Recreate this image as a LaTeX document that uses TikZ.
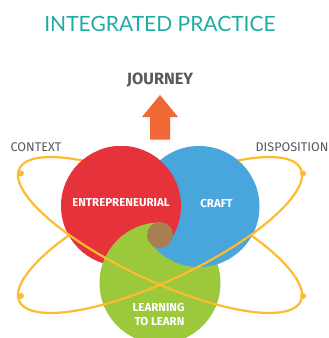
\documentclass[tikz,border=0pt]{standalone}
\usepackage{fontspec}
\setmainfont{Fira Sans}
\newfontfamily\titlefont{Lato}
\definecolor{teal1}{HTML}{1FADA3}
\definecolor{red1}{HTML}{E5323B}
\definecolor{blue1}{HTML}{48A6DC}
\definecolor{green1}{HTML}{9BC93B}
\definecolor{brown1}{HTML}{A87F52}
\definecolor{orange1}{HTML}{F26835}
\definecolor{yellow1}{HTML}{FDBB30}
\definecolor{gray1}{HTML}{58595B}
\tikzset{
  orbit/.style={draw=yellow1,line width=2.2pt},
  dotmark/.style={fill=yellow1,draw=none},
  side/.style={text=gray1,font=\fontsize{12.6}{15}\selectfont,inner sep=0pt},
  inner/.style={text=white,font=\fontsize{11.5}{14}\selectfont\bfseries,inner sep=0pt,align=center}
}
\newcommand{\orbitA}[2]{plot[smooth,samples=60,domain=#1:#2,variable=\t]
  ({160+155.5*cos(\t)*cos(25.2)-45.5*sin(\t)*sin(25.2)},{235+155.5*cos(\t)*sin(25.2)+45.5*sin(\t)*cos(25.2)})}
\newcommand{\orbitB}[2]{plot[smooth,samples=60,domain=#1:#2,variable=\t]
  ({160-155.5*cos(\t)*cos(25.2)+45.5*sin(\t)*sin(25.2)},{235+155.5*cos(\t)*sin(25.2)+45.5*sin(\t)*cos(25.2)})}
\begin{document}
\begin{tikzpicture}[x=1pt,y=-1pt]
\useasboundingbox (0,0) rectangle (329,338);
\fill[white] (0,0) rectangle (329,338);
% back half of orbits
\draw[orbit] \orbitA{180}{360};
\draw[orbit] \orbitB{180}{360};
% circles
\fill[red1] (121,206) circle (60);
\fill[green1] (160,283) circle (60.5);
\fill[blue1] (199,206.5) circle (60.5);
\begin{scope}
  \clip (121,206) circle (60);
  \fill[red1] (100,120) rectangle (200,236);
\end{scope}
\begin{scope}
  \clip (160,283) circle (60.5);
  \fill[green1] (90,215) rectangle (160,236.5);
\end{scope}
\fill[brown1] (160,235) circle (13);
% front half of orbits
\draw[orbit] \orbitA{0}{180};
\draw[orbit] \orbitB{0}{180};
\foreach \p in {(21,173.5),(303,173.5),(21,296),(303,296)} \fill[dotmark] \p circle (3);
% arrow
\fill[orange1] (160,95) -- (178,117) -- (170,117) -- (170,139.5) -- (150,139.5) -- (150,117) -- (142,117) -- cycle;
% text
\node[text=teal1,font=\titlefont\fontsize{21}{24}\selectfont,inner sep=0pt] (title) at (160,24) {INTEGRATED PRACTICE};
\node[text=gray1,font=\fontsize{16.3}{18}\selectfont\bfseries,inner sep=0pt] (journey) at (160,80) {JOURNEY};
\node[side] (context) at (36,147) {CONTEXT};
\node[side] (disposition) at (292,147) {DISPOSITION};
\node[inner] (entre) at (121,202.5) {ENTREPRENEURIAL};
\node[inner] (craft) at (216.5,204) {CRAFT};
\node[inner] (learn1) at (158.5,308) {LEARNING};
\node[inner] (learn2) at (159.5,321.5) {TO LEARN};
\end{tikzpicture}
\end{document}
